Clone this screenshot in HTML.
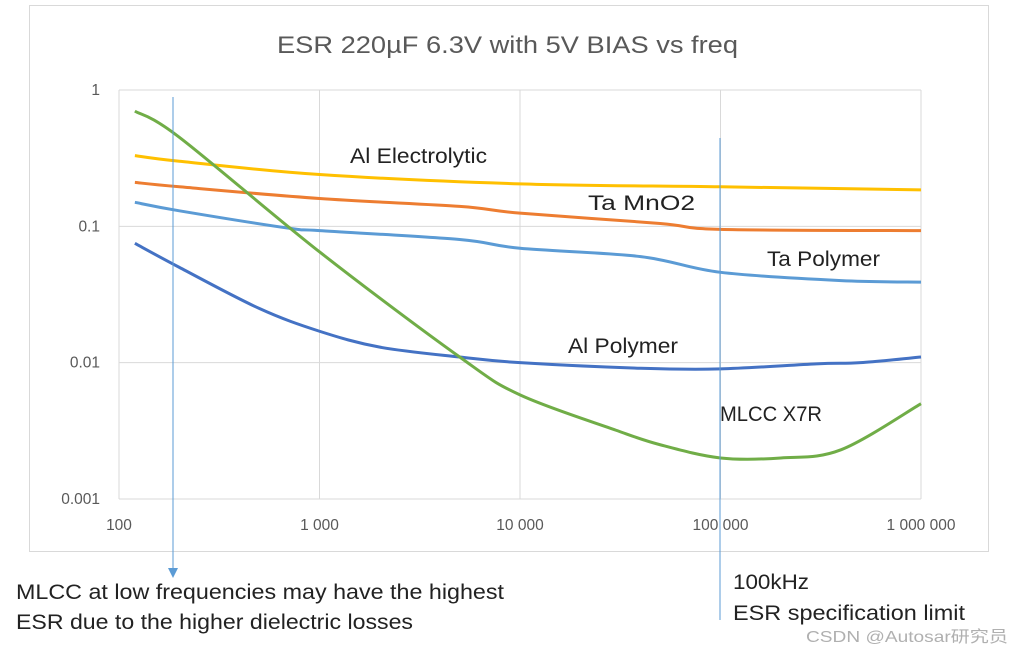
<!DOCTYPE html>
<html><head><meta charset="utf-8"><style>
body{margin:0;background:#fff;width:1024px;height:654px;overflow:hidden;font-family:"Liberation Sans",sans-serif}
</style></head><body>
<svg id="c" width="1024" height="654" font-family="Liberation Sans, sans-serif">
<rect x="29.5" y="5.5" width="959" height="546" fill="#fff" stroke="#d9d9d9"/>
<text x="277" y="53" font-size="24" fill="#595959" textLength="461" lengthAdjust="spacingAndGlyphs">ESR 220µF 6.3V with 5V BIAS vs freq</text>
<g id="grid"></g><g id="series"></g><g id="labels"></g>
<text x="16" y="599" font-size="21" fill="#222" textLength="488" lengthAdjust="spacingAndGlyphs">MLCC at low frequencies may have the highest</text>
<text x="16" y="629" font-size="21" fill="#222" textLength="397" lengthAdjust="spacingAndGlyphs">ESR due to the higher dielectric losses</text>
<text x="733" y="589" font-size="21" fill="#222" textLength="76" lengthAdjust="spacingAndGlyphs">100kHz</text>
<text x="733" y="620" font-size="21" fill="#222" textLength="232" lengthAdjust="spacingAndGlyphs">ESR  specification limit</text>
<text x="806" y="642" font-size="16" fill="#b0b0b0" textLength="202" lengthAdjust="spacingAndGlyphs" font-family="Liberation Sans, Noto Sans CJK SC, sans-serif">CSDN @Autosar研究员</text>
</svg>
<script>
const xTicks=[100,1000,10000,100000,1000000];
const xTickLabels=["100","1 000","10 000","100 000","1 000 000"];
const yTicks=[1,0.1,0.01,0.001];
const yTickLabels=["1","0.1","0.01","0.001"];
const freqYellow=[120,200,1000,10000,100000,1000000];
const alElectrolytic=[0.33,0.30,0.24,0.205,0.195,0.185];
const freqOrange=[120,200,1000,5000,10000,50000,100000,1000000];
const taMnO2=[0.21,0.195,0.16,0.14,0.125,0.105,0.095,0.093];
const freqLightBlue=[120,200,700,1000,5000,10000,40000,100000,400000,1000000];
const taPolymer=[0.15,0.13,0.097,0.093,0.08,0.069,0.06,0.046,0.04,0.039];
const freqDarkBlue=[120,200,500,1000,2000,5000,10000,40000,100000,300000,500000,1000000];
const alPolymer=[0.075,0.05,0.025,0.017,0.013,0.011,0.010,0.0091,0.009,0.0098,0.0100,0.011];
const freqGreen=[120,200,1000,5000,10000,30000,50000,100000,200000,400000,1000000];
const mlccX7R=[0.7,0.45,0.065,0.011,0.0058,0.0032,0.0025,0.0020,0.0020,0.0023,0.005];
const X0=119,X1=921,Y0=90,Y1=499;
const xs=f=>X0+(Math.log10(f)-2)/4*(X1-X0);
const ys=v=>Y0+(0-Math.log10(v))/3*(Y1-Y0);
const NS="http://www.w3.org/2000/svg";
function mk(t,a,p){const e=document.createElementNS(NS,t);for(const k in a)e.setAttribute(k,a[k]);p.appendChild(e);return e;}
const g=document.getElementById('grid');
xTicks.forEach((t,i)=>{const l=mk('line',{x1:xs(t),x2:xs(t),y1:Y0,y2:Y1,stroke:'#d9d9d9'},g);


const tx=mk('text',{x:xs(t),y:530,'font-size':15.5,fill:'#595959','text-anchor':'middle'},g);tx.textContent=xTickLabels[i];

});
yTicks.forEach((t,i)=>{const l=mk('line',{x1:X0,x2:X1,y1:ys(t),y2:ys(t),stroke:'#d9d9d9'},g);


const tx=mk('text',{x:100,y:ys(t)+5,'font-size':15.5,fill:'#595959','text-anchor':'end'},g);tx.textContent=yTickLabels[i];

});
function path(fs,vs){const p=fs.map((f,i)=>[xs(f),ys(vs[i])]);let d=`M${p[0][0]},${p[0][1]}`;
for(let i=0;i<p.length-1;i++){const a=p[i-1]||p[i],b=p[i],c=p[i+1],e=p[i+2]||c;
d+=` C${b[0]+(c[0]-a[0])/6},${b[1]+(c[1]-a[1])/6} ${c[0]-(e[0]-b[0])/6},${c[1]-(e[1]-b[1])/6} ${c[0]},${c[1]}`;}return d;}
const s=document.getElementById('series');
[[freqYellow,alElectrolytic,'#ffc000','series-al-electrolytic'],[freqOrange,taMnO2,'#ed7d31','series-ta-mno2'],
[freqLightBlue,taPolymer,'#5b9bd5','series-ta-polymer'],[freqDarkBlue,alPolymer,'#4472c4','series-al-polymer'],
[freqGreen,mlccX7R,'#70ad47','series-mlcc-x7r']].forEach(r=>{const e=mk('path',{d:path(r[0],r[1]),fill:'none',stroke:r[2],'stroke-width':3},s);

});
const L=document.getElementById('labels');
[["Al Electrolytic",350,163,137],["Ta MnO2",588,210,107],["Ta Polymer",767,266,113],["Al Polymer",568,353,110],["MLCC X7R",720,421,102]].forEach(r=>{
const t=mk('text',{x:r[1],y:r[2],'font-size':21,fill:'#222',textLength:r[3],lengthAdjust:'spacingAndGlyphs'},L);t.textContent=r[0];

});
const a1=mk('line',{x1:173,x2:173,y1:97,y2:570,stroke:'#5b9bd5','stroke-width':1},L);


const ah=mk('polygon',{points:'168,568 178,568 173,578',fill:'#5b9bd5'},L);


const a2=mk('line',{x1:720,x2:720,y1:138,y2:620,stroke:'#5b9bd5','stroke-width':1},L);


</script>
</body></html>
